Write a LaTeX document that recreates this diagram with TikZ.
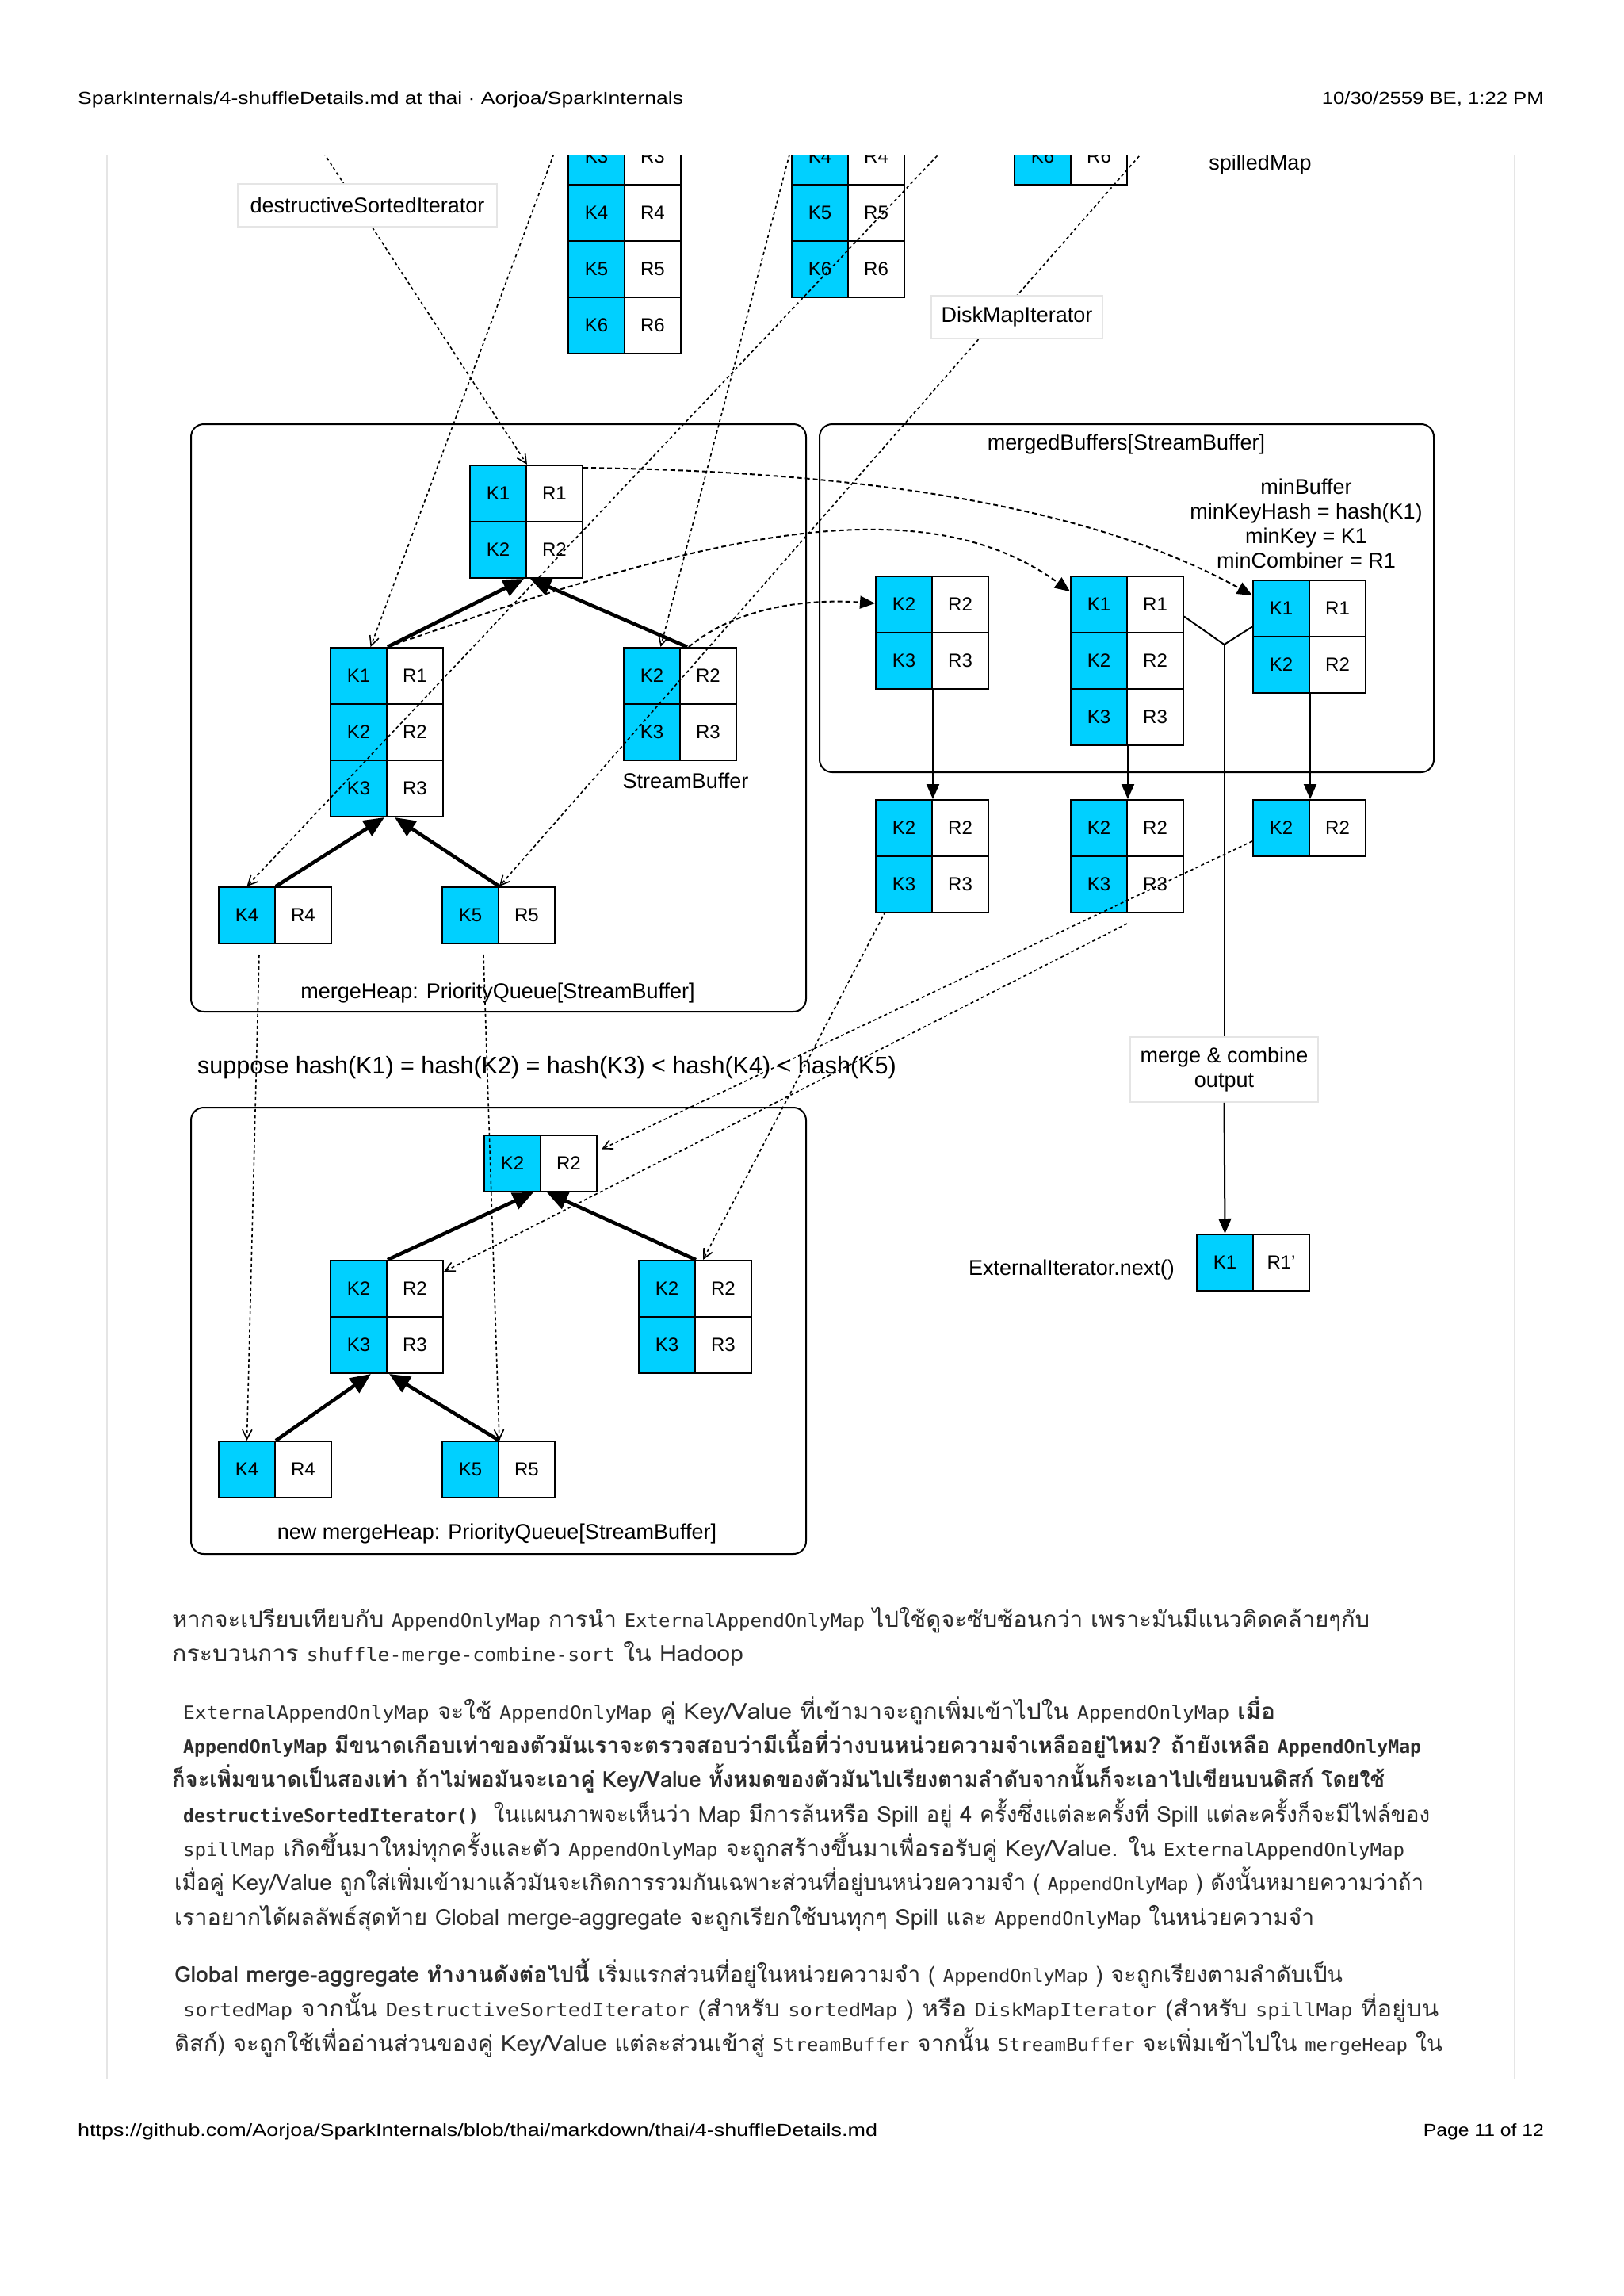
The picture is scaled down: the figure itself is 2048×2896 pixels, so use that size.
\documentclass[tikz,border=0pt]{standalone}
\usepackage{fontspec}
\usepackage{graphicx}
\usetikzlibrary{arrows.meta,calc}
\newfontfamily\dfont{Liberation Sans}
\newfontfamily\thfont[Script=Thai]{Loma}
\newfontfamily\cfont{DejaVu Sans Mono}
\definecolor{kcyan}{RGB}{0,208,255}
\definecolor{bodytxt}{RGB}{45,45,45}
\newsavebox\fitbox
\newcommand\fitto[2]{\sbox\fitbox{#2}\pgfmathsetmacro\fitr{#1/\the\wd\fitbox}\scalebox{\fitr}[1]{\usebox\fitbox}}
\newcommand\cd[1]{{\cfont\fontsize{23}{28}\selectfont #1}}
\newcommand\kvrow[5]{\node[kc] (#1k) at (#2,#3) {#4}; \node[rc] (#1r) at (#2+71,#3) {#5};}
\begin{document}
\begin{tikzpicture}[x=1pt,y=-1pt,
  kc/.style={draw=black, line width=2pt, fill=kcyan, minimum width=71pt, minimum height=71pt, inner sep=0pt, anchor=north west, font=\dfont\fontsize{24}{28}\selectfont},
  rc/.style={kc, fill=white},
  lbl/.style={inner sep=0pt, font=\dfont\fontsize{27}{31}\selectfont},
  lblbox/.style={lbl, draw=black!10, line width=1.5pt, fill=white},
  cont/.style={draw=black, line width=2pt, rounded corners=16pt, anchor=north west, inner sep=0pt},
  heaparr/.style={line width=4.5pt, -{Triangle[length=26pt,width=22pt]}},
  flowarr/.style={line width=2pt, -{Triangle[length=19pt,width=16pt]}},
  flowline/.style={line width=2pt},
  curvarr/.style={line width=2pt, dash pattern=on 6pt off 4pt, -{Triangle[length=19pt,width=16pt]}},
  dotarr/.style={line width=1.6pt, dash pattern=on 4pt off 3.5pt, -{Straight Barb[length=12pt,width=12pt]}},
  txt/.style={anchor=base west, inner sep=0pt, text=bodytxt, font=\thfont\fontsize{28}{32}\selectfont},
  hdr/.style={inner sep=0pt, text=black, font=\dfont\fontsize{22}{26}\selectfont}
]
\fill[white] (0,0) rectangle (2048,2896);
\useasboundingbox (0,0) rectangle (2048,2896);

% header / footer
\node[hdr, anchor=base west] (hl) at (98,131) {\fitto{764}{SparkInternals/4-shuffleDetails.md at thai · Aorjoa/SparkInternals}};
\node[hdr, anchor=base east] (hr) at (1948,131) {\fitto{280}{10/30/2559 BE, 1:22 PM}};
\node[hdr, anchor=base west] (fl) at (98,2694) {\fitto{1009}{https://github.com/Aorjoa/SparkInternals/blob/thai/markdown/thai/4-shuffleDetails.md}};
\node[hdr, anchor=base east] (fr) at (1948,2694) {\fitto{152}{Page 11 of 12}};

% page side lines
\draw[black!10, line width=1.5pt] (135,196) -- (135,2622);
\draw[black!10, line width=1.5pt] (1911,196) -- (1911,2622);

\begin{scope}
\clip (0,196) rectangle (2048,2896);
% containers
\node[cont, minimum width=776pt, minimum height=741pt] (heapA) at (240,534) {};
\node[cont, minimum width=775pt, minimum height=439pt] (mbuf) at (1033,534) {};
\node[cont, minimum width=776pt, minimum height=563pt] (heapB) at (240,1396) {};

% spill maps (top)
\kvrow{sa}{716}{161}{K3}{R3}
\kvrow{sb}{716}{232}{K4}{R4}
\kvrow{sc}{716}{303}{K5}{R5}
\kvrow{sd}{716}{374}{K6}{R6}
\kvrow{se}{998}{161}{K4}{R4}
\kvrow{sf}{998}{232}{K5}{R5}
\kvrow{sg}{998}{303}{K6}{R6}
\kvrow{sh}{1279}{161}{K6}{R6}

% mergeHeap
\kvrow{t1}{592}{586}{K1}{R1}
\kvrow{t2}{592}{657}{K2}{R2}
\kvrow{m1}{416}{816}{K1}{R1}
\kvrow{m2}{416}{887}{K2}{R2}
\kvrow{m3}{416}{958}{K3}{R3}
\kvrow{q1}{786}{816}{K2}{R2}
\kvrow{q2}{786}{887}{K3}{R3}
\kvrow{h4}{275}{1118}{K4}{R4}
\kvrow{h5}{557}{1118}{K5}{R5}

% mergedBuffers
\kvrow{a1}{1104}{726}{K2}{R2}
\kvrow{a2}{1104}{797}{K3}{R3}
\kvrow{b1}{1350}{726}{K1}{R1}
\kvrow{b2}{1350}{797}{K2}{R2}
\kvrow{b3}{1350}{868}{K3}{R3}
\kvrow{c1}{1580}{731}{K1}{R1}
\kvrow{c2}{1580}{802}{K2}{R2}
\kvrow{a3}{1104}{1008}{K2}{R2}
\kvrow{a4}{1104}{1079}{K3}{R3}
\kvrow{b4}{1350}{1008}{K2}{R2}
\kvrow{b5}{1350}{1079}{K3}{R3}
\kvrow{c3}{1580}{1008}{K2}{R2}
\kvrow{o1}{1509}{1556}{K1}{R1’}

% new mergeHeap
\kvrow{n1}{610}{1431}{K2}{R2}
\kvrow{n2}{416}{1589}{K2}{R2}
\kvrow{n3}{416}{1660}{K3}{R3}
\kvrow{n4}{805}{1589}{K2}{R2}
\kvrow{n5}{805}{1660}{K3}{R3}
\kvrow{n6}{275}{1817}{K4}{R4}
\kvrow{n7}{557}{1817}{K5}{R5}

% heap arrows
\draw[heaparr] (m1k.north east) -- ([xshift=-4pt]t2k.south east);
\draw[heaparr] ([xshift=8pt]q1k.north east) -- ([xshift=4pt]t2k.south east);
\draw[heaparr] (h4k.north east) -- ([xshift=-4pt]m3k.south east);
\draw[heaparr] (h5k.north east) -- ([xshift=9pt]m3k.south east);
\draw[heaparr] (n2k.north east) -- ([xshift=-10pt]n1k.south east);
\draw[heaparr] (n4k.north east) -- ([xshift=7pt]n1k.south east);
\draw[heaparr] (n6k.north east) -- ([xshift=-21pt]n3k.south east);
\draw[heaparr] (n7k.north east) -- ([xshift=2pt]n3k.south east);

% flow arrows in merged buffers
\draw[flowarr] (a2k.south east) -- (a3k.north east);
\draw[flowarr] (b3k.south east) -- (b4k.north east);
\draw[flowarr] (c2k.south east) -- (c3k.north east);
\coordinate (yj) at (1544.5,813);
\draw[flowline] ([yshift=-15pt]b1r.east) -- (yj) -- ([yshift=-23pt]c1k.west);

% labels
\node[lbl] (spm) at (1590,208) {spilledMap};
\node[lbl] (sbl) at (865,985) {StreamBuffer};
\node[lbl] (mhl) at (628,1253) {mergeHeap: PriorityQueue[StreamBuffer]};
\node[lbl] (mbl) at (1421,561) {mergedBuffers[StreamBuffer]};
\node[lbl, align=center] (minb) at (1648,660) {minBuffer\\minKeyHash = hash(K1)\\minKey = K1\\minCombiner = R1};
\node[lbl, anchor=west, font=\dfont\fontsize{30.5}{34}\selectfont] (sup) at (249,1347) {suppose hash(K1) = hash(K2) = hash(K3) < hash(K4) < hash(K5)};
\node[lbl] (eit) at (1352,1601) {ExternalIterator.next()};
\node[lbl] (nhl) at (627,1934) {new mergeHeap: PriorityQueue[StreamBuffer]};

% dotted iterator lines
\coordinate (da0) at (400,180);
\coordinate (db0) at (704,180);
\coordinate (dc0) at (1000,180);
\coordinate (dd0) at (1198,180);
\coordinate (de0) at (1452,180);
\coordinate (df0) at (327,1204);
\coordinate (dg0) at (610,1204);
\coordinate (dh0) at (1117,1150);
\coordinate (di0) at (1580,1061);
\coordinate (dj0) at (1422,1165);
\draw[dotarr] (da0) -- (t1k.north east);
\draw[dotarr] (db0) -- ([xshift=15pt]m1k.north);
\draw[dotarr] (dc0) -- ([xshift=11pt]q1k.north);
\draw[dotarr] (dd0) -- (h4k.north);
\draw[dotarr] (de0) -- (h5k.north east);
\draw[dotarr] (df0) -- (n6k.north);
\draw[dotarr] (dg0) -- (n7k.north east);
\draw[dotarr] (dh0) -- ([xshift=9pt]n4k.north east);
\draw[dotarr] (di0) -- ([yshift=18pt,xshift=5pt]n1r.east);
\draw[dotarr] (dj0) -- ([yshift=-15pt]n2r.north east);

% dashed curves
\draw[curvarr] ([yshift=-4pt]t1r.north east) .. controls (1100,595) and (1380,640) .. ([yshift=-20pt]c1k.north west);
\draw[curvarr] (m1k.north east) .. controls (850,690) and (1150,600) .. ([yshift=-20pt]b1k.north west);
\draw[curvarr] ([xshift=10pt]q1k.north east) .. controls (930,765) and (1020,755) .. ([yshift=-35pt]a1k.north west);

% label boxes on top
\node[lblbox, minimum width=327pt, minimum height=54pt] (dsi) at (463.5,259) {destructiveSortedIterator};
\node[lblbox, minimum width=216pt, minimum height=54pt] (dmi) at (1283,400) {DiskMapIterator};
\node[lblbox, align=center, minimum width=237pt, minimum height=82pt] (mc) at (1544.5,1349) {merge \& combine\\output};
\draw[flowline] (yj) -- (mc.north);
\draw[flowarr] (mc.south) -- (o1k.north);
\end{scope}

% body text
\node[txt] (p1a) at (217,2052) {\fitto{1511}{หากจะเปรียบเทียบกับ \cd{AppendOnlyMap} การนำ \cd{ExternalAppendOnlyMap} ไปใช้ดูจะซับซ้อนกว่า เพราะมันมีแนวคิดคล้ายๆกับ}};
\node[txt] (p1b) at (217,2095) {\fitto{721}{กระบวนการ \cd{shuffle-merge-combine-sort} ใน Hadoop}};
\node[txt] (p2a) at (231,2168) {\fitto{1378}{\cd{ExternalAppendOnlyMap} จะใช้ \cd{AppendOnlyMap} คู่ Key/Value ที่เข้ามาจะถูกเพิ่มเข้าไปใน \cd{AppendOnlyMap} \textbf{เมื่อ}}};
\node[txt] (p2b) at (231,2211) {\fitto{1562}{\bfseries\cd{AppendOnlyMap} มีขนาดเกือบเท่าของตัวมันเราจะตรวจสอบว่ามีเนื้อที่ว่างบนหน่วยความจำเหลืออยู่ไหม? ถ้ายังเหลือ \cd{AppendOnlyMap}}};
\node[txt] (p2c) at (217,2254) {\fitto{1530}{\bfseries ก็จะเพิ่มขนาดเป็นสองเท่า ถ้าไม่พอมันจะเอาคู่ Key/Value ทั้งหมดของตัวมันไปเรียงตามลำดับจากนั้นก็จะเอาไปเขียนบนดิสก์ โดยใช้}};
\node[txt] (p2d) at (231,2298) {\fitto{1573}{{\bfseries\cd{destructiveSortedIterator()}}\ \ ในแผนภาพจะเห็นว่า Map มีการล้นหรือ Spill อยู่ 4 ครั้งซึ่งแต่ละครั้งที่ Spill แต่ละครั้งก็จะมีไฟล์ของ}};
\node[txt] (p2e) at (231,2341) {\fitto{1541}{\cd{spillMap} เกิดขึ้นมาใหม่ทุกครั้งและตัว \cd{AppendOnlyMap} จะถูกสร้างขึ้นมาเพื่อรอรับคู่ Key/Value. ใน \cd{ExternalAppendOnlyMap}}};
\node[txt] (p2f) at (220,2384) {\fitto{1576}{เมื่อคู่ Key/Value ถูกใส่เพิ่มเข้ามาแล้วมันจะเกิดการรวมกันเฉพาะส่วนที่อยู่บนหน่วยความจำ ( \cd{AppendOnlyMap} ) ดังนั้นหมายความว่าถ้า}};
\node[txt] (p2g) at (220,2428) {\fitto{1438}{เราอยากได้ผลลัพธ์สุดท้าย Global merge-aggregate จะถูกเรียกใช้บนทุกๆ Spill และ \cd{AppendOnlyMap} ในหน่วยความจำ}};
\node[txt] (p3a) at (220,2500) {\fitto{1474}{\textbf{Global merge-aggregate ทำงานดังต่อไปนี้} เริ่มแรกส่วนที่อยู่ในหน่วยความจำ ( \cd{AppendOnlyMap} ) จะถูกเรียงตามลำดับเป็น}};
\node[txt] (p3b) at (231,2543) {\fitto{1584}{\cd{sortedMap} จากนั้น \cd{DestructiveSortedIterator} (สำหรับ \cd{sortedMap} ) หรือ \cd{DiskMapIterator} (สำหรับ \cd{spillMap} ที่อยู่บน}};
\node[txt] (p3c) at (220,2587) {\fitto{1600}{ดิสก์) จะถูกใช้เพื่ออ่านส่วนของคู่ Key/Value แต่ละส่วนเข้าสู่ \cd{StreamBuffer} จากนั้น \cd{StreamBuffer} จะเพิ่มเข้าไปใน \cd{mergeHeap} ใน}};
\end{tikzpicture}
\end{document}
